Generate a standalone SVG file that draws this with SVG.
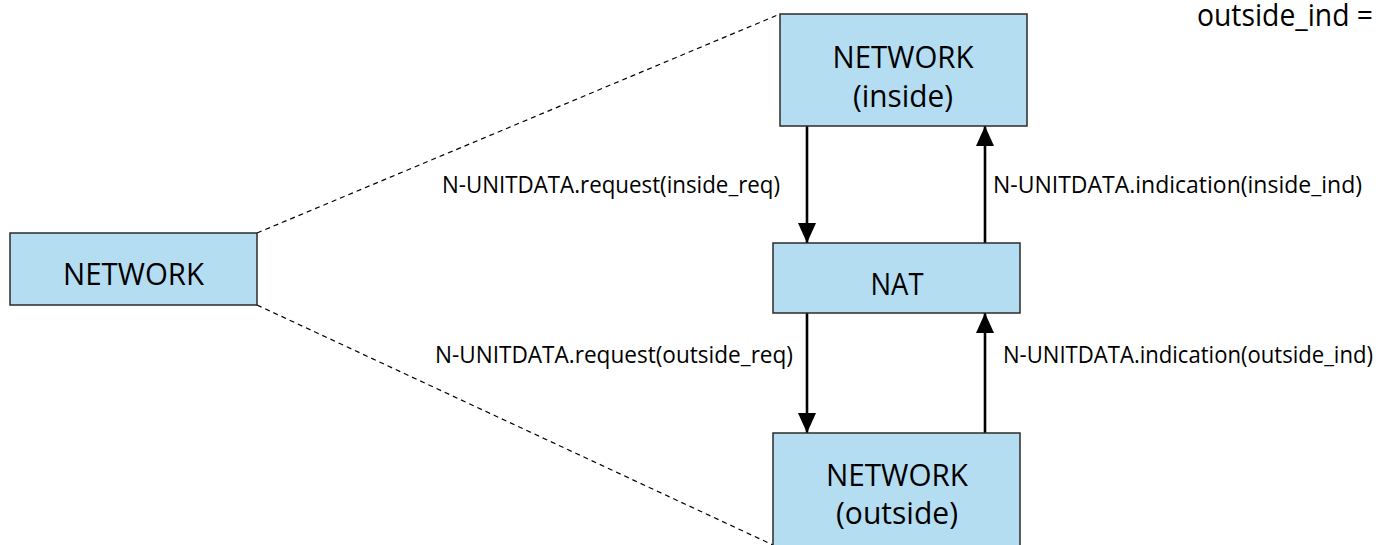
<svg xmlns="http://www.w3.org/2000/svg" width="1382" height="545" viewBox="0 0 1382 545">
<style>
.box{fill:#b4ddf2;stroke:#2b2b2b;stroke-width:1.5}
.big{font-family:"Open Sans","Liberation Sans",sans-serif;font-size:31px;fill:#000;text-anchor:middle}
.lbl{font-family:"Open Sans","Liberation Sans",sans-serif;font-size:23px;fill:#000}
.arr{stroke:#000;stroke-width:2.6;fill:none}
.dash{stroke:#000;stroke-width:1.2;stroke-dasharray:5 4;fill:none}
</style>
<defs>
<marker id="ah" viewBox="0 0 20 18" refX="20" refY="9" markerWidth="20" markerHeight="18" markerUnits="userSpaceOnUse" orient="auto">
<path d="M0,0 L20,9 L0,18 Z" fill="#000"/>
</marker>
</defs>
<g id="connectors">
<line class="dash" x1="257" y1="233" x2="780" y2="14"/>
<line class="dash" x1="257" y1="305" x2="773" y2="545"/>
<line class="arr" x1="807" y1="126" x2="807" y2="243" marker-end="url(#ah)"/>
<line class="arr" x1="985" y1="243" x2="985" y2="126" marker-end="url(#ah)"/>
<line class="arr" x1="807" y1="313" x2="807" y2="433" marker-end="url(#ah)"/>
<line class="arr" x1="985" y1="433" x2="985" y2="313" marker-end="url(#ah)"/>
<text class="lbl" x="442" y="193" textLength="338" lengthAdjust="spacingAndGlyphs">N-UNITDATA.request(inside_req)</text>
<text class="lbl" x="993" y="193" textLength="369" lengthAdjust="spacingAndGlyphs">N-UNITDATA.indication(inside_ind)</text>
<text class="lbl" x="435" y="363" textLength="358" lengthAdjust="spacingAndGlyphs">N-UNITDATA.request(outside_req)</text>
<text class="lbl" x="1003" y="363" textLength="370" lengthAdjust="spacingAndGlyphs">N-UNITDATA.indication(outside_ind)</text>
</g>
<g id="network-inside">
<rect class="box" x="780" y="14" width="247" height="112"/>
<text class="big" x="903" y="68" textLength="141" lengthAdjust="spacingAndGlyphs">NETWORK</text>
<text class="big" x="903" y="107" textLength="100" lengthAdjust="spacingAndGlyphs">(inside)</text>
</g>
<g id="network-left">
<rect class="box" x="10" y="233" width="247" height="72"/>
<text class="big" x="133.5" y="285" textLength="141" lengthAdjust="spacingAndGlyphs">NETWORK</text>
</g>
<g id="nat">
<rect class="box" x="773" y="243" width="247" height="70"/>
<text class="big" x="897" y="295" textLength="53" lengthAdjust="spacingAndGlyphs">NAT</text>
</g>
<g id="network-outside">
<rect class="box" x="773" y="433" width="247" height="120"/>
<text class="big" x="897" y="486" textLength="142" lengthAdjust="spacingAndGlyphs">NETWORK</text>
<text class="big" x="897" y="524" textLength="122" lengthAdjust="spacingAndGlyphs">(outside)</text>
</g>
<g id="note">
<text class="big" x="1197" y="26" style="text-anchor:start" textLength="176" lengthAdjust="spacingAndGlyphs">outside_ind =</text>
</g>
</svg>
